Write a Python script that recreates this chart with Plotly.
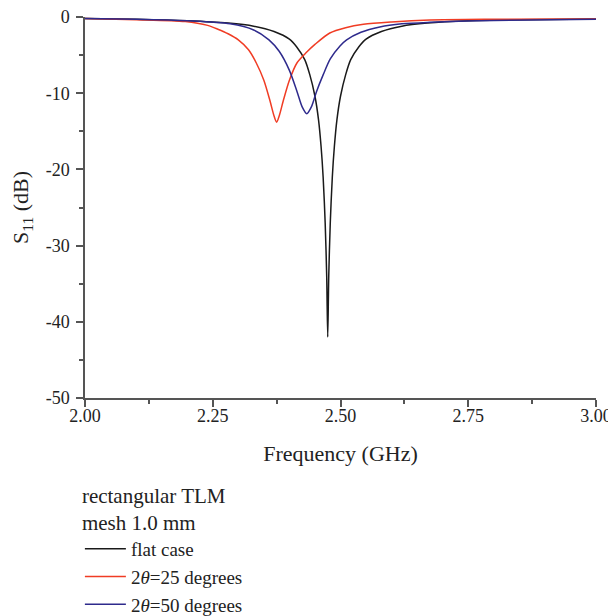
import plotly.graph_objects as go

# frequency (GHz) / S11 (dB)
flat_f = [2.00, 2.10, 2.20, 2.28, 2.33, 2.37, 2.40, 2.414, 2.43, 2.44, 2.45, 2.457,
          2.462, 2.466, 2.470, 2.473, 2.475, 2.477, 2.480, 2.484, 2.488, 2.493,
          2.500, 2.510, 2.520, 2.536, 2.55, 2.58, 2.62, 2.67, 2.75, 2.85, 3.00]
flat_s = [-0.2, -0.3, -0.5, -0.8, -1.2, -1.9, -2.9, -3.9, -5.6, -7.6, -10.4, -13.5,
          -17.0, -21.0, -27.0, -34.0, -42.0, -34.0, -27.0, -21.0, -17.0, -13.5,
          -10.4, -7.6, -5.6, -3.9, -2.9, -1.9, -1.2, -0.8, -0.5, -0.35, -0.25]

deg25_f = [2.00, 2.10, 2.196, 2.24, 2.26, 2.28, 2.30, 2.32, 2.335, 2.35, 2.362, 2.37,
           2.375, 2.38, 2.388, 2.40, 2.415, 2.434, 2.45, 2.479, 2.51, 2.545, 2.60,
           2.675, 2.80, 3.00]
deg25_s = [-0.2, -0.35, -0.6, -1.1, -1.6, -2.2, -3.0, -4.3, -6.0, -8.3, -11.0, -13.0,
           -13.8, -13.0, -11.0, -8.3, -6.0, -4.6, -3.6, -2.1, -1.4, -0.95, -0.65,
           -0.4, -0.3, -0.25]

deg50_f = [2.00, 2.10, 2.20, 2.284, 2.33, 2.36, 2.38, 2.40, 2.415, 2.425, 2.434, 2.443,
           2.453, 2.466, 2.48, 2.499, 2.512, 2.54, 2.577, 2.62, 2.675, 2.80, 3.00]
deg50_s = [-0.2, -0.3, -0.5, -0.9, -1.7, -3.0, -4.5, -7.0, -9.8, -11.8, -12.7, -11.8,
           -9.8, -7.6, -5.5, -3.8, -3.0, -2.0, -1.3, -0.9, -0.7, -0.45, -0.3]

x_ticks = [2.00, 2.25, 2.50, 2.75, 3.00]
x_labels = ["2.00", "2.25", "2.50", "2.75", "3.00"]
y_ticks = [0, -10, -20, -30, -40, -50]
y_labels = ["0", "-10", "-20", "-30", "-40", "-50"]

font = "Liberation Serif"
txt = "#222222"
axcol = "#555555"

fig = go.Figure()
for f, s, name, col in [
    (flat_f, flat_s, "flat case", "#1a1a1a"),
    (deg25_f, deg25_s, "2<i>θ</i>=25 degrees", "#f03c24"),
    (deg50_f, deg50_s, "2<i>θ</i>=50 degrees", "#2e2a8c"),
]:
    fig.add_trace(go.Scatter(x=f, y=s, mode="lines", name=name,
                             line=dict(color=col, width=1.5, shape="spline", smoothing=0.8)))

fig.update_xaxes(
    range=[2, 3], tickvals=x_ticks, ticktext=x_labels, showgrid=False, zeroline=False,
    showline=True, linecolor=axcol, linewidth=1.5, automargin=False,
    ticks="outside", ticklen=7, tickcolor=axcol, tickwidth=1.5, ticklabelstandoff=-6,
    ticklabeloverflow="allow",
    minor=dict(dtick=0.125, ticks="outside", ticklen=4, tickcolor=axcol, tickwidth=1.5),
    title=dict(text="Frequency (GHz)", standoff=20),
)
fig.update_yaxes(
    range=[-50, 0], tickvals=y_ticks, ticktext=y_labels, showgrid=False, zeroline=False,
    showline=True, linecolor=axcol, linewidth=1.5, automargin=False,
    ticks="outside", ticklen=7, tickcolor=axcol, tickwidth=1.5, ticklabelstandoff=3,
    ticklabeloverflow="allow",
    minor=dict(dtick=5, ticks="outside", ticklen=4, tickcolor=axcol, tickwidth=1.5),
    title=dict(text="S<sub>11</sub> (dB)", standoff=30),
)

# page body adds an 8px offset, so the figure is drawn 8px smaller
fig.update_layout(
    width=608, height=608,
    margin=dict(l=77, r=20, t=9, b=218, autoexpand=False),
    plot_bgcolor="white", paper_bgcolor="white",
    font=dict(family=font, size=18, color=txt),
    legend=dict(
        title=dict(text="rectangular TLM<br>mesh 1.0 mm", side="top",
                   font=dict(size=21)),
        x=-0.01, xanchor="left", y=-0.203, yanchor="top",
        bgcolor="rgba(0,0,0,0)", font=dict(size=19),
        itemwidth=41,
    ),
    showlegend=True,
)

fig.write_html("out.html")
